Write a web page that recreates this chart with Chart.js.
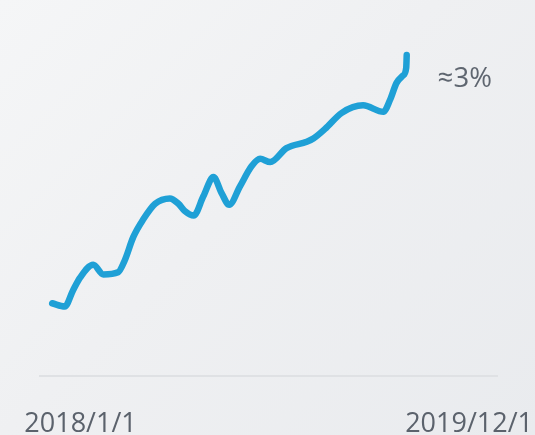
<!DOCTYPE html>
<html><head><meta charset="utf-8">
<script src="https://cdn.jsdelivr.net/npm/chart.js@4"></script>
<style>
html,body{margin:0;padding:0;width:535px;height:435px;overflow:hidden;}
body{background:linear-gradient(135deg,#f5f6f7 0%,#eff0f2 45%,#e9ebee 100%);}
#c{display:block;}
</style></head><body>
<canvas id="c" width="535" height="435"></canvas>
<script>
// days since 2018-01-01 (series ends 2019-12-01 = day 699)
const dayOffsets = [0, 25, 41, 55, 81, 101, 130, 143, 160, 179, 203, 232, 249, 262, 279, 298, 318, 334, 349, 370, 393, 410, 430, 462, 502, 515, 538, 571, 613, 653, 666, 679, 692, 698, 699];
// value in %
const values = [0.68, 0.65, 0.80, 0.92, 1.04, 0.95, 0.97, 1.08, 1.30, 1.46, 1.61, 1.66, 1.61, 1.54, 1.50, 1.68, 1.86, 1.71, 1.60, 1.77, 1.96, 2.03, 2.00, 2.13, 2.19, 2.22, 2.31, 2.46, 2.53, 2.47, 2.58, 2.74, 2.81, 2.88, 3.00];
const tickDays = [56, 822];
const tickLabels = ['2018/1/1', '2019/12/1'];
const endLabel = '≈3%';

const points = dayOffsets.map((d, i) => ({ x: d, y: values[i] }));

const endLabelPlugin = {
  id: 'endLabel',
  afterDatasetsDraw(chart) {
    const meta = chart.getDatasetMeta(0);
    const last = meta.data[meta.data.length - 1];
    const ctx = chart.ctx;
    ctx.save();
    ctx.font = '27.5px "Open Sans"';
    ctx.fillStyle = '#5f6670';
    ctx.textAlign = 'left';
    ctx.textBaseline = 'alphabetic';
    ctx.fillText(endLabel, last.x + 31, last.y + 32);
    ctx.restore();
  }
};

new Chart(document.getElementById('c'), {
  type: 'line',
  data: {
    datasets: [{
      data: points,
      borderColor: '#1fa0d6',
      borderWidth: 6.5,
      borderCapStyle: 'round',
      borderJoinStyle: 'round',
      pointRadius: 0,
      fill: false,
      cubicInterpolationMode: 'monotone'
    }]
  },
  options: {
    responsive: false,
    animation: false,
    devicePixelRatio: 1,
    layout: { padding: { left: 40, right: 38, top: 23, bottom: 0 } },
    plugins: { legend: { display: false }, tooltip: { enabled: false } },
    scales: {
      x: {
        type: 'linear',
        min: -24,
        max: 877,
        grid: { display: false },
        border: { display: true, color: '#dfe1e4', width: 2 },
        afterBuildTicks(scale) { scale.ticks = tickDays.map(v => ({ value: v })); },
        afterFit(scale) { scale.height = 59; scale.paddingLeft = 0; scale.paddingRight = 0; },
        ticks: {
          autoSkip: false,
          maxRotation: 0,
          padding: 24,
          color: '#5b626c',
          font: { family: 'Open Sans', size: 27 },
          callback: (v, i) => tickLabels[i]
        }
      },
      y: { display: false, min: 0, max: 3.3 }
    }
  },
  plugins: [endLabelPlugin]
});
</script>
</body></html>
